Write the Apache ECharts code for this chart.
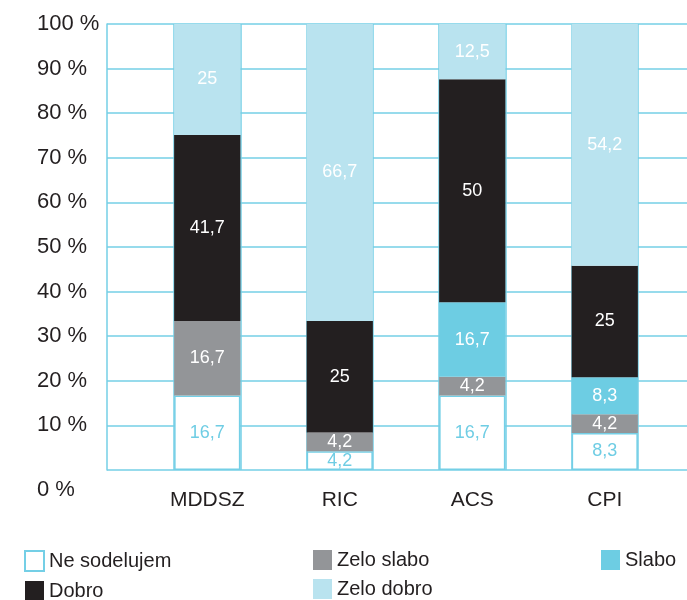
<!DOCTYPE html>
<html>
<head>
<meta charset="utf-8">
<script src="https://cdn.jsdelivr.net/npm/echarts@6/dist/echarts.min.js"></script>
<style>
    html, body { margin: 0; padding: 0; background: #fff; }
    #chart { width: 687px; height: 600px; }
</style>
</head>
<body>
<div id="chart"></div>
<script>
// podatki
var categories = ['MDDSZ', 'RIC', 'ACS', 'CPI'];
var neSodelujem = [16.7, 4.2, 16.7, 8.3];
var zeloSlabo = [16.7, 4.2, 4.2, 4.2];
var slabo = [null, null, 16.7, 8.3];
var dobro = [41.7, 25, 50, 25];
var zeloDobro = [25, 66.7, 12.5, 54.2];

var lineColor = '#74cfe6';
var textColor = '#231f20';
var font = 'Liberation Sans';

var myChart = echarts.init(document.getElementById('chart'));

function fmt(p) {
    return String(p.value).replace('.', ',');
}

function makeSeries(name, data, color, labelColor, border) {
    return {
        name: name,
        type: 'bar',
        stack: 'all',
        xAxisIndex: 1,
        yAxisIndex: 1,
        barWidth: '50%',
        data: data,
        itemStyle: {
            color: color,
            borderColor: border ? lineColor : color,
            borderWidth: border ? 1.5 : 0
        },
        label: {
            show: true,
            position: 'inside',
            formatter: fmt,
            color: labelColor,
            fontSize: 18,
            fontFamily: font
        }
    };
}

var legendText = { color: textColor, fontSize: 20, fontFamily: font };
var gridLine = { color: lineColor, width: 1.5 };

var option = {
    animation: false,
    grid: [
        { left: 107, right: 0, top: 24, bottom: 130 },   // vodoravne črte + os y
        { left: 141, right: 16, top: 24, bottom: 130 },  // stolpci
        { left: 174, right: 49, top: 24, bottom: 130 }   // navpične črte ob stolpcih
    ],
    legend: [
        { data: ['Ne sodelujem', 'Dobro'], orient: 'vertical', left: 24, top: 550 },
        { data: ['Zelo slabo', 'Zelo dobro'], orient: 'vertical', left: 313, top: 550 },
        { data: ['Slabo'], orient: 'vertical', left: 601, top: 550 }
    ].map(function (l) {
        l.icon = 'rect';
        l.itemWidth = 19;
        l.itemHeight = 20;
        l.itemGap = 9;
        l.padding = 0;
        l.textStyle = legendText;
        return l;
    }),
    xAxis: [
        {
            type: 'value',
            gridIndex: 0,
            min: 0,
            max: 1,
            show: false
        },
        {
            type: 'category',
            gridIndex: 1,
            data: categories,
            axisLine: { show: false },
            axisTick: { show: false },
            splitLine: { show: false },
            axisLabel: { color: textColor, fontSize: 21, fontFamily: font, margin: 20 }
        },
        {
            type: 'category',
            gridIndex: 2,
            data: ['', '', '', '', '', '', ''],
            axisLine: { show: false },
            axisTick: { show: false },
            axisLabel: { show: false },
            splitLine: { show: true, interval: 0, lineStyle: gridLine }
        }
    ],
    yAxis: [
        {
            type: 'value',
            gridIndex: 0,
            min: 0,
            max: 100,
            interval: 10,
            axisLine: { show: true, lineStyle: gridLine },
            axisTick: { show: false },
            splitLine: { show: true, lineStyle: gridLine },
            axisLabel: {
                align: 'left',
                margin: 70,
                color: textColor,
                fontSize: 22,
                fontFamily: font,
                formatter: function (v) {
                    return v === 0 ? '{z|0 %}' : v + ' %';
                },
                rich: {
                    z: { padding: [40, 0, 0, 0], fontSize: 22, fontFamily: font, color: textColor }
                }
            }
        },
        {
            type: 'value',
            gridIndex: 1,
            min: 0,
            max: 100,
            show: false
        },
        {
            type: 'value',
            gridIndex: 2,
            min: 0,
            max: 100,
            show: false
        }
    ],
    series: [
        makeSeries('Ne sodelujem', neSodelujem, '#ffffff', '#6fcde4', true),
        makeSeries('Zelo slabo', zeloSlabo, '#939598', '#ffffff'),
        makeSeries('Slabo', slabo, '#6dcde3', '#ffffff'),
        makeSeries('Dobro', dobro, '#231f20', '#ffffff'),
        makeSeries('Zelo dobro', zeloDobro, '#b9e3ef', '#ffffff')
    ]
};

myChart.setOption(option);
</script>
</body>
</html>
